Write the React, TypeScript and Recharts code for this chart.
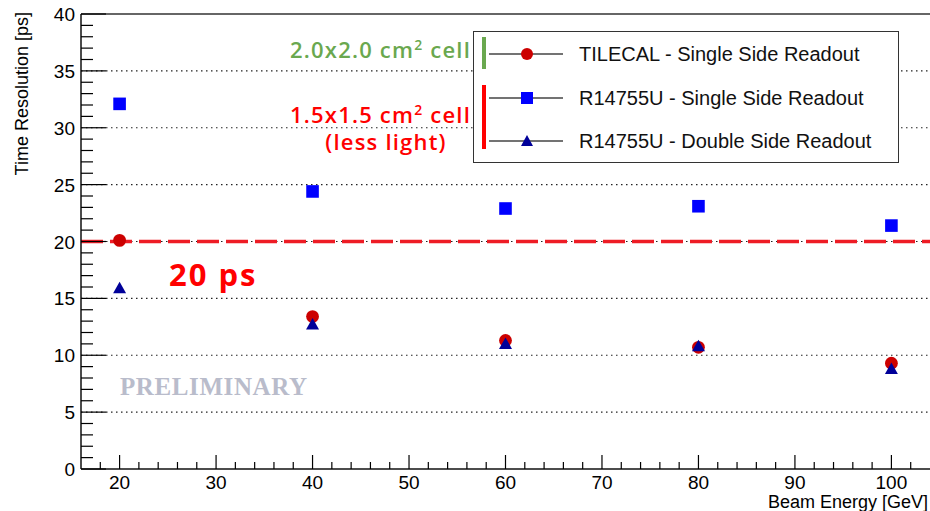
import React from "react";
import {
  ScatterChart,
  Scatter,
  XAxis,
  YAxis,
  ReferenceLine,
  Legend,
} from "recharts";

const energies = [20, 40, 60, 80, 100];
const tilecalSingle = [20.1, 13.4, 11.3, 10.7, 9.3];
const pmtSingle = [32.1, 24.4, 22.9, 23.1, 21.4];
const pmtDouble = [15.9, 12.7, 11.0, 10.8, 8.8];

const seriesNames = [
  "TILECAL - Single Side Readout",
  "R14755U - Single Side Readout",
  "R14755U - Double Side Readout",
];

const xTicks = [18, 20, 22, 24, 26, 28, 30, 32, 34, 36, 38, 40, 42, 44, 46, 48, 50, 52, 54, 56, 58, 60, 62, 64, 66, 68, 70, 72, 74, 76, 78, 80, 82, 84, 86, 88, 90, 92, 94, 96, 98, 100, 102];
const yTicks = Array.from({ length: 41 }, (_, i) => i);
const gridLines = [5, 10, 15, 20, 25, 30, 35];
const thresholdPs = 20;

const RED = "#cc0000";
const BLUE = "#0000ff";
const NAVY = "#000099";
const GREEN = "#6aa84f";
const BRIGHT_RED = "#ff0000";

const toPoints = (ys: number[]) => energies.map((x, i) => ({ x, y: ys[i] }));

const FONT = "'Liberation Sans', Arial, sans-serif";
const ANNOT = "'Open Sans', sans-serif";

const XTick = (props: any) => {
  const { x, y, payload } = props;
  const v = payload.value;
  const major = v % 10 === 0;
  return (
    <g>
      <line x1={x} x2={x} y1={y} y2={y - (major ? 14 : 7)} stroke="#000" strokeWidth={1.2} />
      {major && (
        <text x={x} y={y + 20} textAnchor="middle" fontSize={19} fontFamily={FONT} fill="#000">
          {v}
        </text>
      )}
    </g>
  );
};

const YTick = (props: any) => {
  const { x, y, payload } = props;
  const v = payload.value;
  const major = v % 5 === 0;
  return (
    <g>
      <line x1={x} x2={x + (major ? 25 : 12)} y1={y} y2={y} stroke="#000" strokeWidth={1.2} />
      {major && (
        <text x={x - 6} y={y} dy={7} textAnchor="end" fontSize={19} fontFamily={FONT} fill="#000">
          {v}
        </text>
      )}
    </g>
  );
};

const CircleDot = (p: any) => <circle cx={p.cx} cy={p.cy} r={6.4} fill={RED} />;
const SquareDot = (p: any) => (
  <rect x={p.cx - 6.3} y={p.cy - 6.3} width={12.6} height={12.6} fill={BLUE} />
);
const TriangleDot = (p: any) => (
  <polygon
    points={`${p.cx},${p.cy - 6.5} ${p.cx - 6.5},${p.cy + 5} ${p.cx + 6.5},${p.cy + 5}`}
    fill={NAVY}
  />
);

const markers = [
  (cx: number, cy: number) => <circle cx={cx} cy={cy} r={6} fill={RED} />,
  (cx: number, cy: number) => <rect x={cx - 6} y={cy - 6} width={12} height={12} fill={BLUE} />,
  (cx: number, cy: number) => (
    <polygon points={`${cx},${cy - 6} ${cx - 6},${cy + 5} ${cx + 6},${cy + 5}`} fill={NAVY} />
  ),
];

const LegendBox = () => (
  <div
    style={{
      position: "relative",
      width: 426,
      height: 132,
      border: "1.5px solid #333",
      background: "#fff",
      boxSizing: "border-box",
      fontFamily: FONT,
    }}
  >
    <div style={{ position: "absolute", left: 8, top: 5, width: 4, height: 32, background: GREEN }} />
    <div style={{ position: "absolute", left: 8, top: 53, width: 4, height: 64, background: BRIGHT_RED }} />
    {seriesNames.map((name, i) => {
      const top = [22, 66, 109][i];
      return (
        <div key={name}>
          <svg
            width={80}
            height={16}
            style={{ position: "absolute", left: 15, top: top - 8 }}
          >
            <line x1={0} x2={74} y1={8} y2={8} stroke="#444" strokeWidth={1.5} />
            {markers[i](38, 8)}
          </svg>
          <div
            style={{
              position: "absolute",
              left: 105,
              top: top - 12,
              fontSize: 20,
              lineHeight: "24px",
              color: "#111",
              whiteSpace: "nowrap",
            }}
          >
            {name}
          </div>
        </div>
      );
    })}
  </div>
);

const annotStyle = {
  position: "absolute" as const,
  fontFamily: ANNOT,
  fontWeight: 600,
  fontSize: 22,
  letterSpacing: 1.2,
  lineHeight: "28px",
  whiteSpace: "nowrap" as const,
};

export default function App() {
  return (
    <div style={{ position: "absolute", left: 0, top: 0, width: 930, height: 511, background: "#fff" }}>
      <ScatterChart
        width={930}
        height={511}
        margin={{ top: 14, right: 0, bottom: 12, left: 21 }}
      >
        <XAxis
          type="number"
          dataKey="x"
          domain={[16, 104]}
          ticks={xTicks}
          interval={0}
          tickSize={0}
          tickMargin={0}
          tickLine={false}
          tick={<XTick />}
          height={30}
          allowDataOverflow
          axisLine={{ stroke: "#111", strokeWidth: 1.5 }}
        />
        <YAxis
          type="number"
          dataKey="y"
          domain={[0, 40]}
          ticks={yTicks}
          interval={0}
          tickSize={0}
          tickMargin={0}
          tickLine={false}
          tick={<YTick />}
          width={60}
          allowDataOverflow
          axisLine={{ stroke: "#111", strokeWidth: 1.5 }}
        />
        {gridLines.map((g) => (
          <ReferenceLine key={g} y={g} stroke="#222" strokeWidth={1.2} strokeDasharray="1.5 3.5" />
        ))}
        <ReferenceLine y={40} stroke="#333" strokeWidth={1.5} />
        <ReferenceLine
          y={thresholdPs}
          stroke="#ee1c25"
          strokeWidth={3.5}
          strokeDasharray="22 7"
        />
        <Scatter
          name={seriesNames[0]}
          data={toPoints(tilecalSingle)}
          shape={<CircleDot />}
          isAnimationActive={false}
        />
        <Scatter
          name={seriesNames[1]}
          data={toPoints(pmtSingle)}
          shape={<SquareDot />}
          isAnimationActive={false}
        />
        <Scatter
          name={seriesNames[2]}
          data={toPoints(pmtDouble)}
          shape={<TriangleDot />}
          isAnimationActive={false}
        />
        <Legend
          layout="horizontal"
          verticalAlign="middle"
          align="center"
          content={<LegendBox />}
          wrapperStyle={{ position: "absolute", left: 473, top: 31, width: 426, height: 132 }}
        />
      </ScatterChart>

      {/* axis titles */}
      <div
        style={{
          position: "absolute",
          left: -65,
          top: 88,
          width: 174,
          height: 22,
          transform: "rotate(-90deg)",
          textAlign: "right",
          fontFamily: FONT,
          fontSize: 18,
          lineHeight: "22px",
          color: "#000",
          whiteSpace: "nowrap",
        }}
      >
        Time Resolution [ps]
      </div>
      <div
        style={{
          position: "absolute",
          right: 2,
          top: 491,
          fontFamily: FONT,
          fontSize: 18,
          lineHeight: "22px",
          color: "#000",
          whiteSpace: "nowrap",
        }}
      >
        Beam Energy [GeV]
      </div>

      {/* annotations */}
      <div style={{ ...annotStyle, right: 930 - 471, top: 35, color: GREEN }}>
        2.0x2.0 cm<sup style={{ fontSize: 14, lineHeight: 0 }}>2</sup> cell
      </div>
      <div style={{ ...annotStyle, right: 930 - 471, top: 100, color: BRIGHT_RED }}>
        1.5x1.5 cm<sup style={{ fontSize: 14, lineHeight: 0 }}>2</sup> cell
      </div>
      <div
        style={{ ...annotStyle, left: 316, top: 127, width: 140, textAlign: "center", color: BRIGHT_RED }}
      >
        (less light)
      </div>
      <div
        style={{
          ...annotStyle,
          left: 169,
          top: 254,
          fontWeight: 700,
          fontSize: 31,
          letterSpacing: 2,
          lineHeight: "40px",
          color: BRIGHT_RED,
        }}
      >
        20 ps
      </div>
      <div
        style={{
          position: "absolute",
          left: 120,
          top: 372,
          fontFamily: "'Liberation Serif', serif",
          fontWeight: 700,
          fontSize: 25,
          letterSpacing: 0.6,
          lineHeight: "30px",
          color: "#b9bccb",
          whiteSpace: "nowrap",
        }}
      >
        PRELIMINARY
      </div>
    </div>
  );
}
